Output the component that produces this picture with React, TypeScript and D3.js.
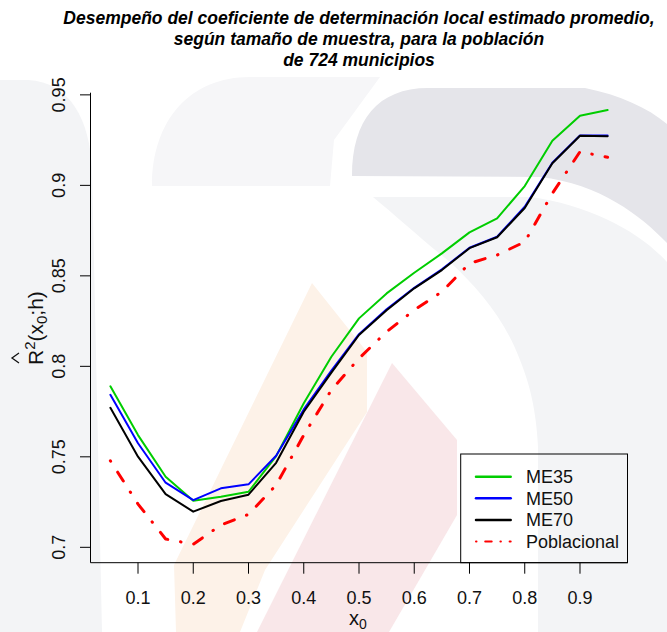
import React from "react";
import * as d3 from "d3";

// Evaluation points x0
const X0 = [0.05, 0.1, 0.15, 0.2, 0.25, 0.3, 0.35, 0.4, 0.45, 0.5, 0.55, 0.6, 0.65, 0.7, 0.75, 0.8, 0.85, 0.9, 0.95];

// Average local R^2 estimate by sample size
const ME35 = [0.789, 0.762, 0.739, 0.7257, 0.728, 0.7307, 0.7504, 0.7796, 0.8053, 0.8265, 0.8403, 0.8517, 0.8624, 0.874, 0.8818, 0.8996, 0.9246, 0.9385, 0.9416];
const ME50 = [0.7843, 0.7575, 0.7357, 0.7261, 0.7326, 0.7348, 0.7506, 0.7762, 0.7976, 0.8178, 0.8315, 0.8434, 0.8536, 0.8655, 0.8716, 0.8882, 0.9125, 0.9276, 0.9276];
const ME70 = [0.7771, 0.7501, 0.7294, 0.7197, 0.7256, 0.7291, 0.7467, 0.7749, 0.7965, 0.8173, 0.831, 0.8431, 0.8532, 0.8653, 0.8713, 0.8875, 0.9122, 0.9274, 0.9271];
const POBLACIONAL = [0.7478, 0.7239, 0.7046, 0.7017, 0.7123, 0.7182, 0.7344, 0.762, 0.7869, 0.8044, 0.8191, 0.8311, 0.8412, 0.8569, 0.8615, 0.8688, 0.8956, 0.9186, 0.9155];

const X_TICKS = [0.1, 0.2, 0.3, 0.4, 0.5, 0.6, 0.7, 0.8, 0.9];
const Y_TICKS = [0.7, 0.75, 0.8, 0.85, 0.9, 0.95];
const Y_TICK_LABELS = ["0.7", "0.75", "0.8", "0.85", "0.9", "0.95"];

const TITLE_LINES = [
  "Desempeño del coeficiente de determinación local estimado promedio,",
  "según tamaño de muestra, para la población",
  "de 724 municipios",
];

const SERIES = [
  { name: "ME35", values: ME35, color: "#00CD00", width: 2, dash: "" },
  { name: "ME50", values: ME50, color: "#0000FF", width: 2, dash: "" },
  { name: "ME70", values: ME70, color: "#000000", width: 2, dash: "" },
  { name: "Poblacional", values: POBLACIONAL, color: "#FF0000", width: 3, dash: "0.5,13,10.5,13" },
];

const W = 667;
const H = 632;
const FONT = "'Liberation Sans', Arial, Helvetica, sans-serif";

const plot = { left: 90.5, right: 627.5, top: 92.7, bottom: 562.7 };

export default function App() {
  const x = d3.scaleLinear().domain([0.014, 0.986]).range([plot.left, plot.right]);
  const y = d3.scaleLinear().domain([0.6915, 0.9512]).range([plot.bottom, plot.top]);

  const line = d3
    .line<number>()
    .x((_, i) => x(X0[i]))
    .y((v) => y(v));

  const titleCx = (plot.left + plot.right) / 2;

  // legend geometry
  const lg = { x0: 460.7, y0: 454, x1: plot.right, y1: plot.bottom };
  const legendRows = [476.7, 498.3, 520, 541.5];

  return (
    <svg
      width={W}
      height={H}
      viewBox={`0 0 ${W} ${H}`}
      style={{ position: "absolute", left: 0, top: 0, background: "#fff" }}
      fontFamily={FONT}
    >
      <rect x={0} y={0} width={W} height={H} fill="#ffffff" />

      {/* faint background emblem */}
      <g>
        <path d="M0,80 L28,80 C70,82 90,120 92,170 L97,400 L102,632 L0,632 Z" fill="#f3f4f6" />
        <path d="M152,186 C152,120 190,77 250,77 L380,77 L334,140 L330,186 Z" fill="#f6f6f8" />
        <path
          d="M352,176 C352,120 378,88 428,88 L585,88 C620,95 648,108 667,124 L667,243 C640,215 600,184 540,177 Z"
          fill="#e5e5ea"
        />
        <path
          d="M373,197 L530,197 C590,205 640,232 667,262 L667,632 L538,632 L538,447 C536,410 530,385 520,360 C505,320 480,290 450,262 C420,238 395,215 373,197 Z"
          fill="#f3f4f6"
        />
        <path d="M312,283 L367,352 L367,412 L265,570 L240,632 L176,632 L174,565 Z" fill="#fdf2e8" />
        <path d="M392,363 L457,440 L457,515 L389,632 L257,632 Z" fill="#f9e7e9" />
      </g>

      {/* title */}
      <g fontWeight="bold" fontStyle="italic" fontSize={17.5} textAnchor="middle" fill="#000">
        {TITLE_LINES.map((t, i) => (
          <text key={i} x={titleCx} y={24 + i * 21}>
            {t}
          </text>
        ))}
      </g>

      {/* frame (L shape) */}
      <path
        d={`M${plot.left},${plot.top} L${plot.left},${plot.bottom} L${plot.right},${plot.bottom}`}
        fill="none"
        stroke="#000"
        strokeWidth={1}
      />

      {/* y axis */}
      <g>
        {Y_TICKS.map((t, i) => (
          <g key={t}>
            <line x1={plot.left - 10.5} x2={plot.left} y1={y(t)} y2={y(t)} stroke="#000" />
            <text
              transform={`translate(65,${y(t)}) rotate(-90)`}
              textAnchor="middle"
              fontSize={18}
              fill="#111"
            >
              {Y_TICK_LABELS[i]}
            </text>
          </g>
        ))}
      </g>

      {/* x axis */}
      <g>
        {X_TICKS.map((t) => (
          <g key={t}>
            <line x1={x(t)} x2={x(t)} y1={plot.bottom} y2={plot.bottom + 11} stroke="#000" />
            <text x={x(t)} y={604} textAnchor="middle" fontSize={18} fill="#111">
              {String(t)}
            </text>
          </g>
        ))}
      </g>

      {/* axis titles */}
      <text x={358} y={625} textAnchor="middle" fontSize={20} fill="#111">
        x
        <tspan fontSize={14} dy={4}>
          0
        </tspan>
      </text>

      <g transform="translate(43,328) rotate(-90)">
        <text x={-37} y={0} fontSize={21} fill="#111">
          R
          <tspan fontSize={15} dy={-8}>
            2
          </tspan>
          <tspan dy={8}>(x</tspan>
          <tspan fontSize={15} dy={4}>
            0
          </tspan>
          <tspan dy={-4}>;h)</tspan>
        </text>
        <path d="M-35,-24 L-30,-31 L-25,-24" fill="none" stroke="#111" strokeWidth={1.3} />
      </g>

      {/* series */}
      <g fill="none" strokeLinejoin="round">
        {SERIES.map((s) => (
          <path
            key={s.name}
            d={line(s.values) || ""}
            stroke={s.color}
            strokeWidth={s.width}
            strokeDasharray={s.dash || undefined}
            strokeLinecap="round"
          />
        ))}
      </g>

      {/* legend */}
      <g>
        <rect
          x={lg.x0}
          y={lg.y0}
          width={lg.x1 - lg.x0}
          height={lg.y1 - lg.y0}
          fill="none"
          stroke="#000"
          strokeWidth={1}
        />
        {SERIES.map((s, i) => (
          <g key={s.name}>
            <line
              x1={476}
              x2={510.7}
              y1={legendRows[i]}
              y2={legendRows[i]}
              stroke={s.color}
              strokeWidth={s.dash ? 2 : 2.5}
              strokeDasharray={s.dash ? "0.5,8.7,6.5,8.7" : undefined}
              strokeLinecap="round"
            />
            <text x={526} y={legendRows[i]} dy="0.35em" fontSize={18} fill="#111">
              {s.name}
            </text>
          </g>
        ))}
      </g>
    </svg>
  );
}
